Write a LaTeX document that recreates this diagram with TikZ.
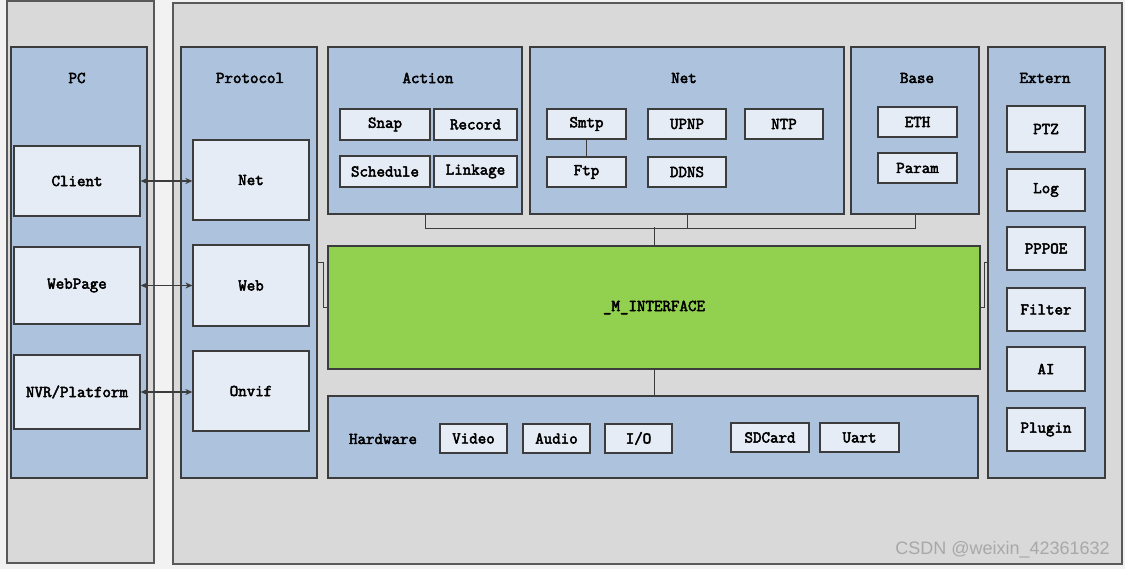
\documentclass[tikz,border=0pt]{standalone}
\usepackage{fontspec}
\newfontfamily\diagfont[FakeBold=3]{Latin Modern Mono}
\newfontfamily\wmfont{Liberation Sans}
\usetikzlibrary{arrows.meta}
\definecolor{bgc}{HTML}{F2F2F2}
\definecolor{outerc}{HTML}{D9D9D9}
\definecolor{panelc}{HTML}{ADC2DC}
\definecolor{boxc}{HTML}{E6ECF5}
\definecolor{greenc}{HTML}{92D050}
\definecolor{edgec}{HTML}{3C3C3C}
\definecolor{wmc}{HTML}{A8A8A8}
\begin{document}
\begin{tikzpicture}[x=1pt,y=-1pt,
  txt/.style={font=\diagfont\fontsize{16.5}{18}\selectfont, text=black},
  outerbox/.style={draw=edgec!85, fill=outerc, line width=1.5pt, inner sep=0pt},
  panel/.style={draw=edgec, fill=panelc, line width=1.3pt, inner sep=0pt},
  box/.style={draw=edgec, fill=boxc, line width=1.2pt, inner sep=0pt, txt},
  title/.style={txt, inner sep=0pt},
  conn/.style={draw=edgec, line width=1pt},
  biarr/.style={conn, line width=1.2pt, {Stealth[length=7pt,width=6pt]}-{Stealth[length=7pt,width=6pt]}}
]
\useasboundingbox (0,0) rectangle (1125,569);
\fill[bgc] (0,0) rectangle (1125,569);

% outer containers
\node[outerbox, minimum width=147pt, minimum height=562pt] (leftouter) at (80.5,282) {};
\node[outerbox, minimum width=949pt, minimum height=561pt] (rightouter) at (647.5,283.5) {};

% PC panel
\node[panel, minimum width=136pt, minimum height=431pt] (pc) at (79,262.5) {};
\node[title] (pcT) at (77,78) {PC};
\node[box, minimum width=126pt, minimum height=70pt] (client) at (77,181) {Client};
\node[box, minimum width=126pt, minimum height=77pt] (webpage) at (77,285.5) {WebPage};
\node[box, minimum width=126pt, minimum height=74pt] (nvr) at (77,392) {NVR/Platform};

% Protocol panel
\node[panel, minimum width=136pt, minimum height=431pt] (proto) at (249,262.5) {};
\node[title] (protoT) at (250,78) {Protocol};
\node[box, minimum width=116pt, minimum height=80pt] (pnet) at (251,180) {Net};
\node[box, minimum width=116pt, minimum height=81pt] (pweb) at (251,285.5) {Web};
\node[box, minimum width=116pt, minimum height=80pt] (ponvif) at (251,391) {Onvif};

% arrows PC <-> Protocol
\draw[biarr] (client.east) -- (client.east -| pnet.west);
\draw[biarr] (webpage.east) -- (webpage.east -| pweb.west);
\draw[biarr] (nvr.east) -- (nvr.east -| ponvif.west);

% Action panel
\node[panel, minimum width=194pt, minimum height=167pt] (action) at (425,130.5) {};
\node[title] (actionT) at (428,78) {Action};
\node[box, minimum width=90pt, minimum height=31pt] (snap) at (385,124.5) {Snap};
\node[box, minimum width=83pt, minimum height=31pt] (record) at (475.5,124.5) {Record};
\node[box, minimum width=90pt, minimum height=31pt] (schedule) at (385,171.5) {Schedule};
\node[box, minimum width=83pt, minimum height=31pt] (linkage) at (475.5,171.5) {Linkage};

% Net panel
\node[panel, minimum width=314pt, minimum height=167pt] (net) at (687,130.5) {};
\node[title] (netT) at (684,78) {Net};
\node[box, minimum width=79pt, minimum height=30pt] (smtp) at (586.5,124) {Smtp};
\node[box, minimum width=78pt, minimum height=30pt] (upnp) at (687,124) {UPNP};
\node[box, minimum width=78pt, minimum height=30pt] (ntp) at (784,124) {NTP};
\node[box, minimum width=79pt, minimum height=30pt] (ftp) at (586.5,172) {Ftp};
\node[box, minimum width=78pt, minimum height=30pt] (ddns) at (687,172) {DDNS};
\draw[conn] (smtp.south) -- (ftp.north);

% Base panel
\node[panel, minimum width=128pt, minimum height=167pt] (base) at (915,130.5) {};
\node[title] (baseT) at (917,78) {Base};
\node[box, minimum width=79pt, minimum height=30pt] (eth) at (917.5,122) {ETH};
\node[box, minimum width=79pt, minimum height=30pt] (param) at (917.5,168) {Param};

% Extern panel
\node[panel, minimum width=117pt, minimum height=431pt] (extern) at (1046.5,262.5) {};
\node[title] (externT) at (1045,78) {Extern};
\node[box, minimum width=78pt, minimum height=46pt] (ptz) at (1046,129) {PTZ};
\node[box, minimum width=78pt, minimum height=42pt] (log) at (1046,190) {Log};
\node[box, minimum width=78pt, minimum height=43pt] (pppoe) at (1046,248.5) {PPPOE};
\node[box, minimum width=78pt, minimum height=43pt] (filter) at (1046,309.5) {Filter};
\node[box, minimum width=78pt, minimum height=44pt] (ai) at (1046,369) {AI};
\node[box, minimum width=78pt, minimum height=43pt] (plugin) at (1046,429.5) {Plugin};

% Interface
\node[draw=edgec, fill=greenc, line width=1.3pt, inner sep=0pt, minimum width=652pt, minimum height=123pt, txt] (green) at (654,307.5) {\_M\_INTERFACE};

% Hardware panel
\node[panel, minimum width=650pt, minimum height=82pt] (hw) at (653,437) {};
\node[title] (hwT) at (383,439) {Hardware};
\node[box, minimum width=67pt, minimum height=29pt] (video) at (473.5,438.5) {Video};
\node[box, minimum width=67pt, minimum height=29pt] (audio) at (556.5,438.5) {Audio};
\node[box, minimum width=67pt, minimum height=29pt] (io) at (638.5,438.5) {I/O};
\node[box, minimum width=78pt, minimum height=29pt] (sdcard) at (770,437.5) {SDCard};
\node[box, minimum width=79pt, minimum height=29pt] (uart) at (859.5,437.5) {Uart};

% connectors to the interface
\draw[conn] (action.south) -- ++(0,14) -| (base.south);
\draw[conn] (net.south) -- ++(0,14);
\draw[conn] (green.north) -- ++(0,-18);
\draw[conn] (green.south) -- (green.south |- hw.north);
\draw[conn] (proto.east) -- ++(6,0) |- (green.west);
\draw[conn] (green.east) -- ++(3.5,0) |- (extern.west);

% watermark
\node[font=\wmfont\fontsize{18}{20}\selectfont, text=wmc, anchor=east, inner sep=0pt] (wm) at (1110,550) {CSDN @weixin\_42361632};
\end{tikzpicture}
\end{document}
